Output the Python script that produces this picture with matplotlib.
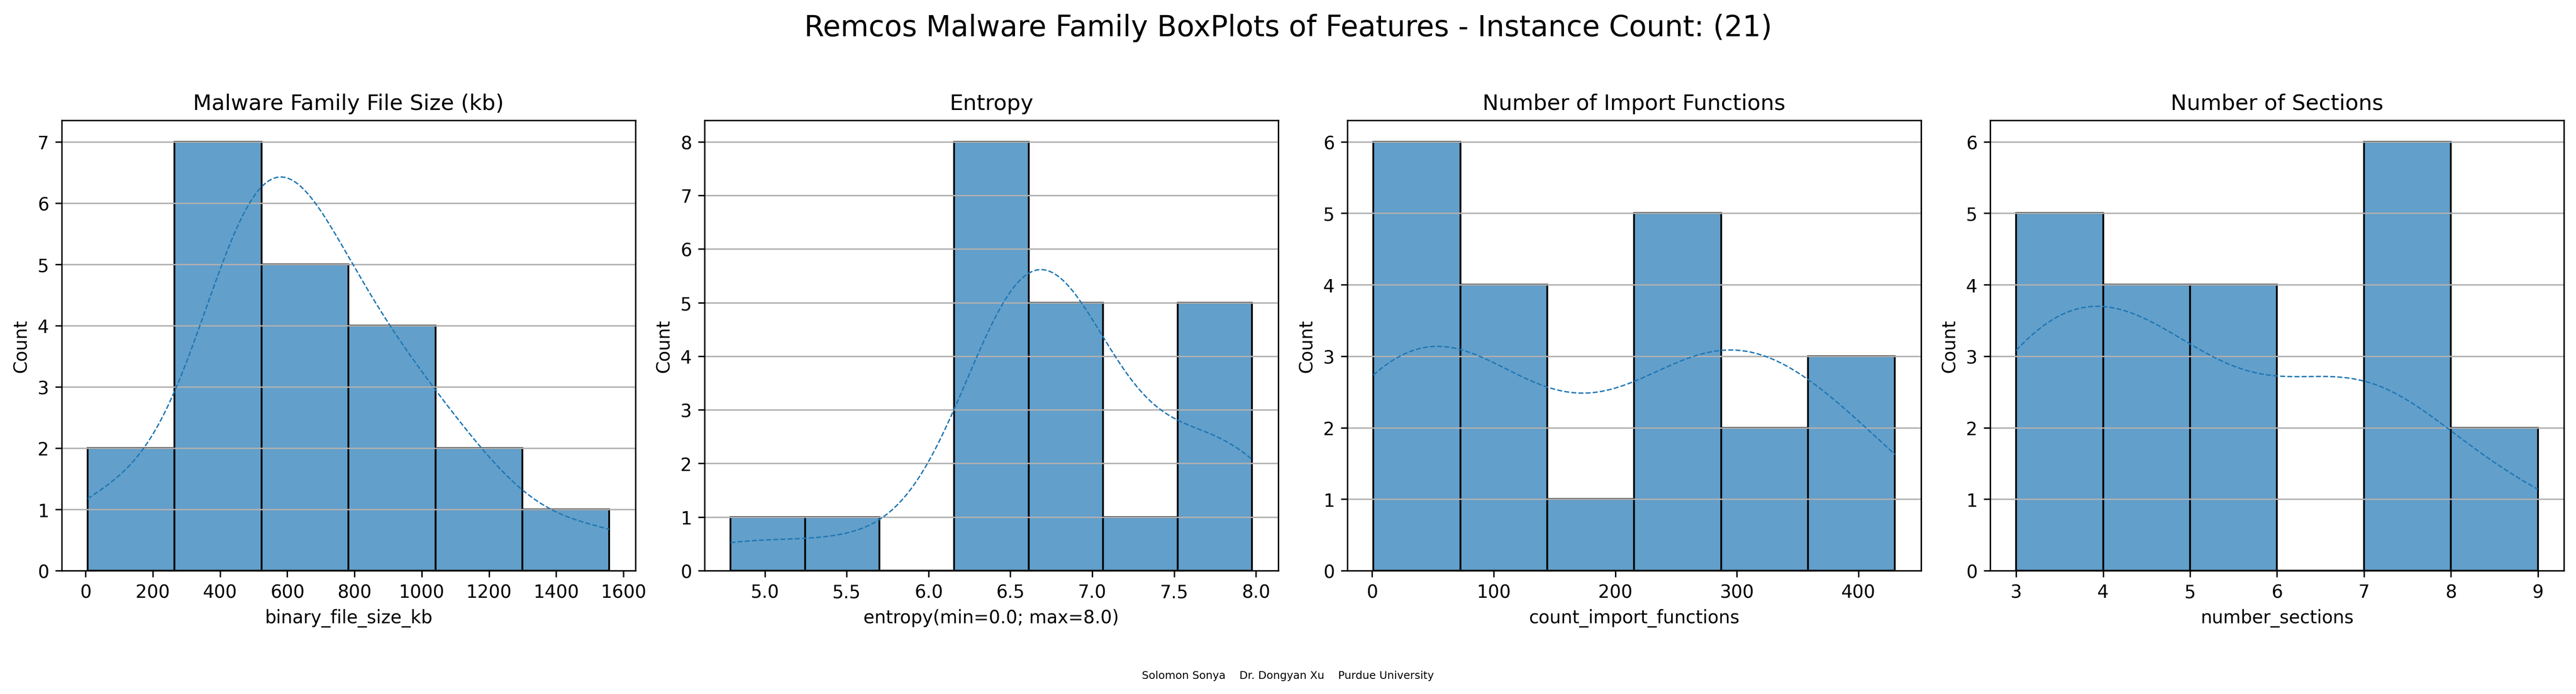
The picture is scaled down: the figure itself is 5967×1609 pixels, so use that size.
import numpy as np
import pandas as pd
import matplotlib
matplotlib.use("Agg")
import matplotlib.pyplot as plt
import seaborn as sns

family = "Remcos"

# Estimated per-sample values (21 instances), read from the histogram bins
binary_file_size_kb = [6, 110,
                       460, 470, 490, 500, 510, 515, 520,
                       540, 580, 640, 700, 760,
                       800, 860, 930, 1000,
                       1100, 1200,
                       1558]
entropy = [4.79, 5.55,
           6.40, 6.48, 6.54, 6.57, 6.59, 6.60, 6.605, 6.608,
           6.70, 6.76, 6.82, 6.88, 6.98,
           7.20,
           7.60, 7.72, 7.82, 7.90, 7.977]
count_import_functions = [1, 1, 5, 10, 30, 60,
                          73, 80, 100, 140,
                          215,
                          255, 275, 282, 285, 286,
                          320, 340,
                          380, 410, 430]
number_sections = [3, 3, 3, 3, 3,
                   4, 4, 4, 4,
                   5, 5, 5, 5,
                   7, 7, 7, 7, 7, 7,
                   9, 9]

features = ["binary_file_size_kb", "entropy", "count_import_functions", "number_sections"]
titles = ["Malware Family File Size (kb)", "Entropy",
          "Number of Import Functions", "Number of Sections"]
xlabels = ["binary_file_size_kb", "entropy(min=0.0; max=8.0)",
           "count_import_functions", "number_sections"]
bin_counts = [6, 7, 6, 6]

df = pd.DataFrame({
    "binary_file_size_kb": binary_file_size_kb,
    "entropy": entropy,
    "count_import_functions": count_import_functions,
    "number_sections": number_sections,
})

fig, axes = plt.subplots(1, 4, figsize=(5967 / 300, 1610 / 300), dpi=300)

for ax, col, title, xlabel, nb in zip(axes, features, titles, xlabels, bin_counts):
    sns.histplot(data=df, x=col, bins=nb, kde=True, ax=ax, color="#1f77b4",
                 alpha=0.7, edgecolor="black",
                 line_kws={"linestyle": "--", "linewidth": 0.75})
    ax.set_title(title)
    ax.set_xlabel(xlabel)
    ax.set_ylabel("Count")
    ax.grid(axis="y")

fig.suptitle(f"{family} Malware Family BoxPlots of Features - Instance Count: ({len(df)})",
             fontsize=16)
fig.text(0.5, 0.027, "Solomon Sonya    Dr. Dongyan Xu    Purdue University",
         ha="center", va="center", fontsize=6)

fig.subplots_adjust(left=0.0239, right=0.9953, bottom=0.1776, top=0.8261, wspace=0.1204)
fig.savefig("out.png", dpi=300)
